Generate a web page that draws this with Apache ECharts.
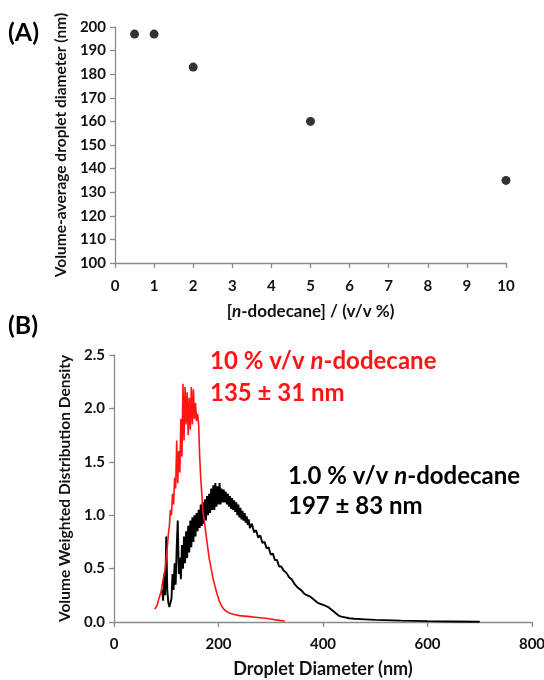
<!DOCTYPE html>
<html><head><meta charset="utf-8">
<script src="https://cdn.jsdelivr.net/npm/echarts@6/dist/echarts.min.js"></script>
<style>html,body{margin:0;padding:0;background:#fff}#c{width:544px;height:680px}</style>
</head><body><div id="c"></div>
<script>
// Panel A data
const concA = [0.5, 1, 2, 5, 10];
const diamA = [197, 197, 183, 160, 135];
const xTicksA = [0,1,2,3,4,5,6,7,8,9,10];
const yTicksA = [100,110,120,130,140,150,160,170,180,190,200];

// Panel B data: droplet diameter (nm) and density
const blackX = [92,94,96,98,100,102,104,106,108,110,112,114,116,118,120,122,124,126,128,130,132,134,136,138,140,142,144,146,148,150,152,154,156,158,160,162,164,166,168,170,172,174,176,178,180,182,184,186,188,190,192,194,196,198,200,202,204,206,208,210,212,214,216,218,220,222,224,226,228,230,232,234,236,238,240,242,244,246,248,250,252,254,256,258,260,264,268,272,276,280,284,288,292,296,300,304,308,312,316,320,325,330,335,340,345,350,355,360,365,370,375,380,385,390,395,400,405,410,415,420,425,430,435,440,450,460,480,500,550,600,650,700];
const blackY = [0.30,0.20,0.45,0.25,0.80,0.30,0.18,0.14,0.15,0.22,0.45,0.30,0.55,0.35,0.70,0.95,0.45,0.60,0.40,0.72,0.50,0.80,0.55,0.85,0.60,0.90,0.65,0.95,0.70,0.98,0.75,1.00,0.80,1.02,0.85,1.05,0.88,1.10,0.90,1.12,0.92,1.15,0.95,1.18,1.00,1.20,1.02,1.25,1.05,1.28,1.05,1.30,1.08,1.27,1.10,1.30,1.10,1.25,1.12,1.24,1.12,1.22,1.10,1.20,1.08,1.18,1.06,1.16,1.05,1.14,1.03,1.12,1.00,1.10,0.98,1.07,0.96,1.04,0.95,1.02,0.93,0.99,0.91,0.96,0.88,0.92,0.84,0.86,0.79,0.81,0.74,0.75,0.69,0.70,0.63,0.64,0.58,0.58,0.52,0.52,0.48,0.46,0.42,0.40,0.36,0.33,0.31,0.29,0.26,0.25,0.24,0.22,0.20,0.18,0.17,0.16,0.15,0.14,0.12,0.10,0.08,0.06,0.05,0.045,0.035,0.03,0.025,0.02,0.013,0.008,0.005,0.002];
const redX = [78,82,86,90,94,98,100,102,104,106,108,110,112,114,116,118,120,122,124,126,128,130,132,134,136,138,140,142,144,146,148,150,152,154,156,158,160,162,164,166,168,170,174,178,182,186,190,194,198,202,206,210,215,220,230,240,250,260,270,280,290,300,310,320,327];
const redY = [0.12,0.15,0.22,0.28,0.40,0.50,0.60,0.70,0.82,0.90,1.05,1.00,1.20,1.10,1.35,1.25,1.70,1.30,1.60,1.40,1.90,1.55,2.23,1.70,2.20,1.85,2.15,1.75,2.10,1.80,2.20,1.85,2.18,1.90,2.05,1.88,1.95,1.85,1.55,1.35,1.20,1.05,0.90,0.75,0.60,0.50,0.40,0.32,0.25,0.19,0.15,0.12,0.10,0.085,0.07,0.06,0.055,0.05,0.045,0.04,0.035,0.028,0.02,0.013,0.01];

const FONT = 'Lato, "Open Sans", sans-serif';
const AXC = '#8a8a8a';
const LBL = '#111';
const RED = '#ff1414';

const chart = echarts.init(document.getElementById('c'));
const axisCommon = {
  axisLine: {show: true, lineStyle: {color: AXC, width: 1.3}},
  axisTick: {show: true, inside: false, length: 5, lineStyle: {color: AXC, width: 1.3}},
  splitLine: {show: false},
  axisLabel: {color: LBL, fontFamily: FONT, fontWeight: 'bold', fontSize: 15}
};
function lab(m) { return Object.assign({}, axisCommon.axisLabel, {margin: m}); }
function annot(x, y, pre, post, color) {
  return {type: 'text', x: x, y: y, style: {
    text: post === null ? '{a|' + pre + '}' : '{a|' + pre + '}{i|n}{a|' + post + '}',
    verticalAlign: 'middle', align: 'left',
    rich: {a: {fontFamily: FONT, fontWeight: 'bold', fontSize: 24, fill: color},
           i: {fontFamily: FONT, fontWeight: 'bold', fontStyle: 'italic', fontSize: 24, fill: color}}}};
}
chart.setOption({
  animation: false,
  grid: [
    {left: 115, top: 27, width: 391, height: 236, outerBoundsMode: 'none', containLabel: false},
    {left: 114, top: 355, width: 418, height: 267, outerBoundsMode: 'none', containLabel: false}
  ],
  xAxis: [
    Object.assign({}, axisCommon, {
      gridIndex: 0, type: 'value', min: xTicksA[0], max: xTicksA[xTicksA.length-1], interval: 1,
      axisLabel: lab(16),
      name: '{b|[}{i|n}{b|-dodecane] / (v/v %)}', nameLocation: 'middle', nameGap: 40,
      nameTextStyle: {rich: {
        b: {fontFamily: FONT, fontWeight: 'bold', fontSize: 17, color: LBL},
        i: {fontFamily: FONT, fontWeight: 'bold', fontStyle: 'italic', fontSize: 17, color: LBL}}}
    }),
    Object.assign({}, axisCommon, {
      gridIndex: 1, type: 'value', min: 0, max: 800, interval: 200,
      axisLabel: lab(15),
      name: 'Droplet Diameter (nm)', nameLocation: 'middle', nameGap: 38,
      nameTextStyle: {fontFamily: FONT, fontWeight: 'bold', fontSize: 18, color: LBL}
    })
  ],
  yAxis: [
    Object.assign({}, axisCommon, {
      gridIndex: 0, type: 'value', min: yTicksA[0], max: yTicksA[yTicksA.length-1], interval: 10,
      axisLabel: lab(9),
      name: 'Volume-average droplet diameter (nm)', nameLocation: 'middle', nameGap: 46,
      nameTextStyle: {fontFamily: FONT, fontWeight: 'bold', fontSize: 15.5, color: LBL}
    }),
    Object.assign({}, axisCommon, {
      gridIndex: 1, type: 'value', min: 0, max: 2.5, interval: 0.5,
      axisLabel: Object.assign(lab(9), {formatter: v => v.toFixed(1)}),
      name: 'Volume Weighted Distribution Density', nameLocation: 'middle', nameGap: 40,
      nameTextStyle: {fontFamily: FONT, fontWeight: 'bold', fontSize: 15.5, color: LBL}
    })
  ],
  series: [
    {type: 'scatter', xAxisIndex: 0, yAxisIndex: 0, symbolSize: 9,
     itemStyle: {color: '#000'}, data: concA.map((c, i) => [c, diamA[i]])},
    {type: 'line', xAxisIndex: 1, yAxisIndex: 1, showSymbol: false, symbol: 'none',
     lineStyle: {color: '#000', width: 1.9}, data: blackX.map((x, i) => [x, blackY[i]])},
    {type: 'line', xAxisIndex: 1, yAxisIndex: 1, showSymbol: false, symbol: 'none',
     lineStyle: {color: RED, width: 1.6}, data: redX.map((x, i) => [x, redY[i]])}
  ],
  graphic: [
    {type: 'text', x: 8, y: 33, style: {text: '(A)', fontFamily: FONT, fontWeight: 'bold', fontSize: 25, fill: '#000', verticalAlign: 'middle'}},
    {type: 'text', x: 8, y: 326, style: {text: '(B)', fontFamily: FONT, fontWeight: 'bold', fontSize: 25, fill: '#000', verticalAlign: 'middle'}},
    annot(210, 361, '10 % v/v ', '-dodecane', RED),
    annot(210, 393, '135 ± 31 nm', null, RED),
    annot(288, 476, '1.0 % v/v ', '-dodecane', '#000'),
    annot(288, 506, '197 ± 83 nm', null, '#000')
  ]
});
</script></body></html>
